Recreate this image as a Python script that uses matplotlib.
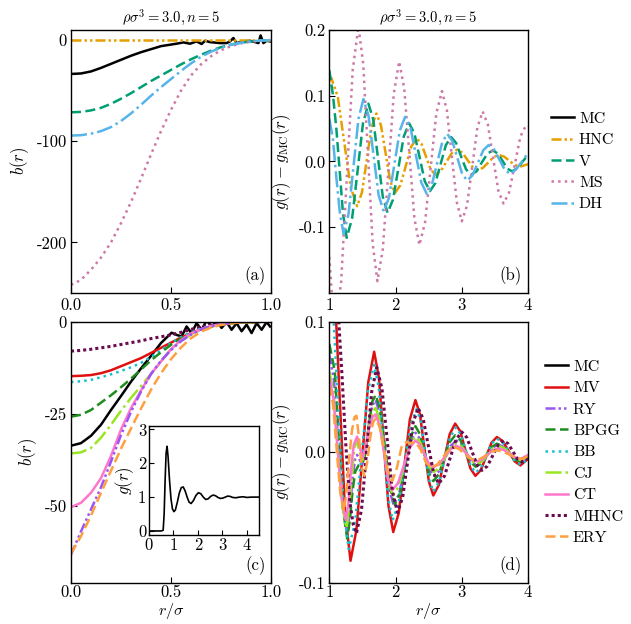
import numpy as np
import matplotlib
matplotlib.use("Agg")
import matplotlib.pyplot as plt

plt.rcParams['font.family'] = 'serif'
plt.rcParams['font.serif'] = ['cmr10']
plt.rcParams['mathtext.fontset'] = 'cm'
plt.rcParams['axes.unicode_minus'] = False
plt.rcParams['font.size'] = 12
plt.rcParams['axes.linewidth'] = 1.0
plt.rcParams['xtick.direction'] = 'in'
plt.rcParams['ytick.direction'] = 'in'

# ---------------- panel (a): bridge function, first set ----------------
r_a = [0.0, 0.05, 0.1, 0.15, 0.2, 0.25, 0.3, 0.35, 0.4, 0.45, 0.5,
       0.55, 0.6, 0.65, 0.7, 0.75, 0.8, 0.85, 0.9, 0.95, 1.0]
b_hnc_a = [0.0] * 21
b_v_a = [-71.4, -71, -69.5, -67, -63, -58, -52.5, -46.5, -40.5, -35, -29.5,
         -24, -19, -14.5, -10.5, -7, -4.5, -2.6, -1.3, -0.5, 0]
b_dh_a = [-94.4, -94, -92.5, -90, -86, -80, -72.5, -64, -55, -46.5, -38.5,
          -30.5, -23, -16.5, -11.5, -7.5, -4.5, -2.6, -1.3, -0.5, 0]
b_ms_a = [-242, -237, -227, -215, -200, -181, -160, -137, -113, -90, -69,
          -50, -35, -24, -16, -10, -6, -3.3, -1.6, -0.6, 0]
r_mc_a = [0.0, 0.05, 0.1, 0.15, 0.2, 0.25, 0.3, 0.35, 0.4, 0.45, 0.495,
          0.53, 0.562, 0.595, 0.628, 0.653, 0.67, 0.695, 0.72, 0.745, 0.778,
          0.795, 0.812, 0.828, 0.862, 0.895, 0.92, 0.937, 0.948, 0.962,
          0.978, 0.995]
b_mc_a = [-33.5, -33, -31, -27.5, -23.5, -19.5, -15.5, -12, -9, -6, -4.6,
          -3.5, -2.3, -3.6, -1.3, -3.9, -0.7, -2, -2.5, -3, -3,
          -1.3, 2, -3, -1.3, -0.7, -2, -3, 4.6, -3, -0.7, -1.3]

# ---------------- panel (b): g(r) - g_MC(r), first set ----------------
r_hnc_b = [1.0, 1.03, 1.128, 1.225, 1.323, 1.42, 1.493, 1.565, 1.638, 1.71,
           1.78, 1.85, 1.92, 1.99, 2.073, 2.155, 2.238, 2.32, 2.39, 2.46,
           2.53, 2.6, 2.683, 2.765, 2.848, 2.93, 3.008, 3.085, 3.163, 3.24,
           3.32, 3.4, 3.48, 3.56, 3.64, 3.72, 3.8, 3.88, 4.0]
g_hnc_b = [0.122, 0.127, 0.0985, 0.0295, -0.0395, -0.068, -0.047, 0.0025,
           0.052, 0.073, 0.055, 0.0125, -0.03, -0.048, -0.036, -0.0065,
           0.023, 0.035, 0.027, 0.0075, -0.012, -0.02, -0.0145, -0.001,
           0.0125, 0.018, 0.0135, 0.0025, -0.0085, -0.013, -0.0096, -0.0015,
           0.0066, 0.01, 0.0074, 0.001, -0.0054, -0.008, -0.004]
r_v_b = [1.0, 1.056, 1.106, 1.157, 1.207, 1.263, 1.345, 1.427, 1.508, 1.59,
         1.663, 1.735, 1.808, 1.88, 1.961, 2.043, 2.124, 2.205, 2.284, 2.363,
         2.441, 2.52, 2.6, 2.68, 2.76, 2.84, 2.915, 2.99, 3.065, 3.14,
         3.223, 3.305, 3.388, 3.47, 3.543, 3.615, 3.688, 3.76, 3.84, 3.92, 4.0]
g_v_b = [0.139, 0.1, 0.05, -0.015, -0.08, -0.116, -0.086, -0.014, 0.058,
         0.088, 0.064, 0.005, -0.054, -0.078, -0.058, -0.01, 0.038, 0.058,
         0.043, 0.0065, -0.03, -0.045, -0.033, -0.004, 0.025, 0.037, 0.028,
         0.0075, -0.012, -0.02, -0.015, -0.001, 0.012, 0.017, 0.012, 0.001,
         -0.011, -0.015, -0.01, 0.0, 0.01]
r_ms_b = [1.0, 1.045, 1.09, 1.178, 1.265, 1.353, 1.44, 1.512, 1.583, 1.655,
          1.726, 1.808, 1.891, 1.973, 2.055, 2.131, 2.208, 2.284, 2.36, 2.445,
          2.53, 2.615, 2.7, 2.775, 2.85, 2.925, 3.0, 3.079, 3.158, 3.236,
          3.315, 3.394, 3.473, 3.551, 3.63, 3.715, 3.8, 3.885, 3.97, 4.0]
g_ms_b = [-0.145, -0.215, -0.25, -0.184, -0.0225, 0.139, 0.205, 0.1485,
          0.0115, -0.1255, -0.182, -0.133, -0.015, 0.103, 0.152, 0.111,
          0.0125, -0.086, -0.127, -0.093, -0.01, 0.073, 0.107, 0.078, 0.008,
          -0.062, -0.091, -0.067, -0.0075, 0.052, 0.076, 0.056, 0.006,
          -0.044, -0.064, -0.047, -0.0045, 0.038, 0.055, 0.054]
r_dh_b = [1.0, 1.054, 1.107, 1.161, 1.215, 1.29, 1.365, 1.44, 1.515, 1.591,
          1.668, 1.744, 1.82, 1.901, 1.983, 2.064, 2.145, 2.226, 2.308, 2.389,
          2.47, 2.548, 2.625, 2.703, 2.78, 2.855, 2.93, 3.005, 3.08, 3.161,
          3.243, 3.324, 3.405, 3.486, 3.568, 3.649, 3.73, 3.82, 3.91, 4.0]
g_dh_b = [0.065, 0.035, -0.025, -0.08, -0.11, -0.08, -0.0075, 0.065, 0.095,
          0.07, 0.0095, -0.051, -0.076, -0.055, -0.004, 0.047, 0.068, 0.051,
          0.0095, -0.032, -0.049, -0.0357, -0.0035, 0.0287, 0.042, 0.0316,
          0.0065, -0.0186, -0.029, -0.0211, -0.002, 0.0171, 0.025, 0.0186,
          0.003, -0.0126, -0.019, -0.012, 0.0, 0.013]

# ---------------- panel (c): bridge function, second set ----------------
r_c = r_a
b_mv_c = [-14.8, -14.7, -14.5, -14, -13.2, -12.1, -11, -9.9, -8.5, -7.1,
          -5.7, -4.3, -3.1, -2.1, -1.3, -0.8, -0.4, -0.2, -0.1, 0, 0]
b_ry_c = [-63.3, -57, -51, -45, -38, -30.8, -24.5, -19, -14.2, -10.6, -7.7,
          -5.3, -3.5, -2.1, -1.2, -0.7, -0.3, -0.1, 0, 0, 0]
b_bpgg_c = [-25.8, -25.3, -24, -22, -20, -17.8, -15.5, -13, -10.5, -8.3,
            -6.3, -4.6, -3.2, -2.1, -1.3, -0.8, -0.4, -0.2, -0.1, 0, 0]
b_bb_c = [-16.4, -16.2, -15.8, -15.1, -14.3, -13.4, -12.4, -11.2, -9.6, -7.8,
          -5.8, -4.2, -2.9, -1.9, -1.2, -0.7, -0.4, -0.2, -0.1, 0, 0]
b_cj_c = [-35.8, -35.5, -34.3, -31.5, -28, -24.2, -20.7, -17.5, -14.2,
          -10.8, -7.5, -5.2, -3.5, -2.2, -1.3, -0.8, -0.4, -0.2, -0.1, 0, 0]
b_ct_c = [-50.4, -49.2, -46.5, -42.5, -36.5, -29.3, -23.5, -18.7, -14.2,
          -10.8, -7.5, -5, -3.2, -2, -1.2, -0.7, -0.3, -0.1, 0, 0, 0]
b_mhnc_c = [-8, -7.8, -7.5, -7.1, -6.7, -6.2, -5.7, -5.2, -4.6, -4.1, -3.6,
            -2.9, -2.1, -1.4, -0.9, -0.5, -0.3, -0.2, -0.1, 0, 0]
b_ery_c = [-63, -58.3, -52.7, -46.5, -40.5, -34.5, -29, -23.6, -18.5, -14,
           -10.2, -7, -4.5, -2.7, -1.6, -0.9, -0.4, -0.2, -0.1, 0, 0]
r_mc_c = [0.0, 0.05, 0.1, 0.15, 0.2, 0.25, 0.3, 0.35, 0.4, 0.45, 0.503, 0.528,
          0.553, 0.578, 0.603, 0.628, 0.653, 0.678, 0.703, 0.728, 0.753,
          0.778, 0.803, 0.828, 0.853, 0.878, 0.903, 0.928, 0.953, 0.978, 0.995]
b_mc_c = [-33.7, -33, -31, -28, -24, -20.2, -16.3, -12.7, -9.3, -5.8,
          -3.0, -3.6, -4.0, -1.3, -3.1, -0.4, -2.2, 0.3, -1.3, 0.1, -1.7,
          -0.1, -2.2, -0.4, -2.6, -0.8, -3.1, -0.4, -2.2, -0.1, -1.3]

# inset: MC radial distribution function
r_ins = [0, 0.5, 0.58, 0.62, 0.66, 0.7, 0.74, 0.78, 0.84, 0.9, 0.96, 1.02,
         1.08, 1.16, 1.24, 1.32, 1.4, 1.48, 1.56, 1.64, 1.72, 1.82, 1.92,
         2.02, 2.12, 2.22, 2.32, 2.42, 2.52, 2.62, 2.72, 2.82, 2.92, 3.02,
         3.12, 3.22, 3.32, 3.42, 3.55, 3.7, 3.85, 4.0, 4.2, 4.5]
g_ins = [0, 0, 0.02, 0.5, 1.5, 2.3, 2.5, 2.2, 1.5, 0.95, 0.65, 0.57, 0.62,
         0.85, 1.12, 1.28, 1.3, 1.18, 1.0, 0.85, 0.81, 0.9, 1.05, 1.13, 1.1,
         1.0, 0.93, 0.95, 1.02, 1.06, 1.04, 0.99, 0.96, 0.97, 1.0, 1.03,
         1.02, 0.99, 0.98, 1.0, 1.01, 0.99, 1.0, 1.0]

# ---------------- panel (d): g(r) - g_MC(r), second set ----------------
r_mv_d = [1.0, 1.073, 1.155, 1.238, 1.32, 1.409, 1.499, 1.588, 1.677, 1.749,
          1.821, 1.893, 1.965, 2.049, 2.133, 2.216, 2.3, 2.368, 2.435, 2.503,
          2.57, 2.653, 2.735, 2.818, 2.9, 2.976, 3.053, 3.129, 3.205, 3.286,
          3.368, 3.449, 3.53, 3.619, 3.708, 3.796, 3.885, 4.0]
g_mv_d = [0.169, 0.133, 0.0435, -0.046, -0.083, -0.0596, -0.003, 0.0536,
          0.077, 0.0569, 0.008, -0.0409, -0.061, -0.0463, -0.0105, 0.0252,
          0.04, 0.0293, 0.0035, -0.0223, -0.033, -0.025, -0.0055, 0.014,
          0.022, 0.0162, 0.002, -0.0122, -0.018, -0.0137, -0.0032, 0.0074,
          0.0117, 0.0085, 0.0009, -0.0068, -0.01, -0.005]
r_ry_d = [1.0, 1.068, 1.135, 1.203, 1.27, 1.31, 1.35, 1.39, 1.42, 1.46, 1.5,
          1.55, 1.6, 1.65, 1.7, 1.768, 1.835, 1.903, 1.97, 2.053, 2.135,
          2.218, 2.3, 2.37, 2.44, 2.51, 2.58, 2.665, 2.75, 2.835, 2.92, 2.995,
          3.07, 3.145, 3.22, 3.303, 3.385, 3.468, 3.55, 3.635, 3.72, 3.805,
          3.89, 4.0]
g_ry_d = [0.075, 0.0559, 0.007, -0.0419, -0.062, -0.045, -0.02, -0.005,
          -0.002, -0.006, -0.009, 0.002, 0.022, 0.036, 0.04, 0.0283, 0.0,
          -0.0283, -0.04, -0.032, -0.0125, 0.007, 0.015, 0.0102, -0.0015,
          -0.0132, -0.018, -0.0141, -0.0045, 0.0051, 0.009, 0.0062, -0.0005,
          -0.0072, -0.01, -0.0077, -0.002, 0.0037, 0.006, 0.0041, -0.0005,
          -0.0051, -0.007, -0.003]
r_bpgg_d = [1.0, 1.083, 1.145, 1.208, 1.27, 1.31, 1.35, 1.39, 1.44, 1.5,
            1.55, 1.6, 1.65, 1.7, 1.773, 1.845, 1.918, 1.99, 2.068, 2.145,
            2.223, 2.3, 2.368, 2.435, 2.503, 2.57, 2.653, 2.735, 2.818, 2.9,
            2.978, 3.055, 3.133, 3.21, 3.29, 3.37, 3.45, 3.53, 3.62, 3.71,
            3.8, 3.89, 4.0]
g_bpgg_d = [0.083, 0.0621, 0.009, -0.0441, -0.066, -0.052, -0.03, -0.015,
            -0.01, -0.008, 0.0, 0.022, 0.039, 0.044, 0.0317, 0.002, -0.0277,
            -0.04, -0.0312, -0.01, 0.0112, 0.02, 0.0139, -0.001, -0.0159,
            -0.022, -0.0169, -0.0045, 0.0079, 0.013, 0.0095, 0.001, -0.0075,
            -0.011, -0.0084, -0.0022, 0.004, 0.0066, 0.0046, -0.0004, -0.0054,
            -0.0074, -0.004]
r_bb_d = [1.0, 1.066, 1.142, 1.217, 1.293, 1.389, 1.485, 1.581, 1.677, 1.747,
          1.816, 1.886, 1.955, 2.046, 2.137, 2.227, 2.318, 2.381, 2.444, 2.507,
          2.57, 2.655, 2.74, 2.825, 2.91, 2.985, 3.06, 3.135, 3.21, 3.29, 3.37,
          3.45, 3.53, 3.62, 3.71, 3.8, 3.89, 4.0]
g_bb_d = [0.129, 0.1, 0.028, -0.0442, -0.074, -0.0534, -0.0035, 0.0464,
          0.067, 0.0496, 0.0075, -0.0346, -0.052, -0.0396, -0.0095, 0.0206,
          0.033, 0.0238, 0.0015, -0.0208, -0.03, -0.0228, -0.0055, 0.0118,
          0.019, 0.0139, 0.0017, -0.0105, -0.0156, -0.0118, -0.0026, 0.0067,
          0.0105, 0.0076, 0.0005, -0.0066, -0.0095, -0.005]
r_cj_d = [1.0, 1.065, 1.13, 1.195, 1.26, 1.3, 1.34, 1.38, 1.41, 1.45, 1.5,
          1.55, 1.6, 1.65, 1.7, 1.765, 1.83, 1.895, 1.96, 2.045, 2.13, 2.215,
          2.3, 2.37, 2.44, 2.51, 2.58, 2.665, 2.75, 2.835, 2.92, 2.995, 3.07,
          3.145, 3.22, 3.303, 3.385, 3.468, 3.55, 3.635, 3.72, 3.805, 3.89,
          4.0]
g_cj_d = [0.062, 0.0445, 0.002, -0.0405, -0.058, -0.042, -0.018, 0.004,
          0.009, 0.002, -0.006, 0.004, 0.02, 0.031, 0.034, 0.0242, 0.0005,
          -0.0232, -0.033, -0.0264, -0.0105, 0.0054, 0.012, 0.0081, -0.0015,
          -0.0111, -0.015, -0.0118, -0.004, 0.0038, 0.007, 0.0047, -0.001,
          -0.0067, -0.009, -0.007, -0.002, 0.003, 0.005, 0.0034, -0.0005,
          -0.0044, -0.006, -0.003]
r_ct_d = [1.0, 1.063, 1.125, 1.188, 1.25, 1.29, 1.33, 1.37, 1.42, 1.46, 1.5,
          1.55, 1.6, 1.65, 1.7, 1.763, 1.825, 1.888, 1.95, 2.038, 2.125, 2.213,
          2.3, 2.368, 2.435, 2.503, 2.57, 2.658, 2.745, 2.833, 2.92, 2.995,
          3.07, 3.145, 3.22, 3.303, 3.385, 3.468, 3.55, 3.635, 3.72, 3.805,
          3.89, 4.0]
g_ct_d = [0.057, 0.0411, 0.0025, -0.0361, -0.052, -0.038, -0.012, 0.006,
          0.012, 0.004, -0.004, 0.004, 0.018, 0.027, 0.029, 0.0205, 0.0,
          -0.0205, -0.029, -0.0235, -0.01, 0.0035, 0.009, 0.006, -0.0013,
          -0.0085, -0.0115, -0.0091, -0.0033, 0.0026, 0.005, 0.0032, -0.001,
          -0.0052, -0.007, -0.0055, -0.002, 0.0015, 0.003, 0.0018, -0.001,
          -0.0038, -0.005, -0.002]
r_mhnc_d = [1.0, 1.06, 1.125, 1.19, 1.25, 1.31, 1.36, 1.41, 1.487, 1.564,
            1.64, 1.717, 1.795, 1.874, 1.952, 2.03, 2.108, 2.185, 2.263, 2.34,
            2.418, 2.495, 2.573, 2.65, 2.738, 2.825, 2.913, 3.0, 3.076, 3.153,
            3.229, 3.305, 3.386, 3.468, 3.549, 3.63, 3.7, 3.77, 3.84, 3.91,
            4.0]
g_mhnc_d = [0.17, 0.155, 0.115, 0.06, 0.005, -0.038, -0.055, -0.062,
            -0.0435, 0.0015, 0.0465, 0.065, 0.0488, 0.0095, -0.0298, -0.046,
            -0.0343, -0.006, 0.0223, 0.034, 0.0255, 0.005, -0.0155, -0.024,
            -0.0182, -0.0042, 0.0098, 0.0156, 0.0113, 0.0009, -0.0095, -0.0138,
            -0.0105, -0.0024, 0.0057, 0.009, 0.0066, 0.0008, -0.005, -0.0074,
            -0.004]
r_ery_d = [1.0, 1.055, 1.11, 1.165, 1.22, 1.26, 1.3, 1.34, 1.38, 1.41, 1.45,
           1.49, 1.53, 1.57, 1.62, 1.66, 1.7, 1.763, 1.825, 1.888, 1.95, 2.02,
           2.09, 2.16, 2.23, 2.3, 2.38, 2.46, 2.55, 2.633, 2.715, 2.798, 2.88,
           2.96, 3.04, 3.12, 3.2, 3.283, 3.365, 3.448, 3.53, 3.625, 3.72,
           3.815, 3.91, 4.0]
g_ery_d = [0.051, 0.037, 0.003, -0.031, -0.045, -0.03, -0.005, 0.016, 0.027,
           0.028, 0.01, -0.012, -0.018, -0.008, 0.012, 0.023, 0.026, 0.019,
           0.002, -0.015, -0.022, -0.012, 0.004, 0.008, 0.007, 0.008, 0.002,
           -0.008, -0.0115, -0.0092, -0.0038, 0.0017, 0.004, 0.0025, -0.001,
           -0.0045, -0.006, -0.0049, -0.0023, 0.0004, 0.0015, 0.0005, -0.0018,
           -0.004, -0.005, -0.003]

# colours
c_hnc, c_v, c_ms, c_dh = '#E69F00', '#009E73', '#CC79A7', '#56B4E9'
c_mv, c_ry, c_bpgg, c_bb = '#E01010', '#9955F5', '#1E8C1E', '#17BECF'
c_cj, c_ct, c_mhnc, c_ery = '#99E620', '#FF77CC', '#6B0A4F', '#FFA040'

ls_dd = (0, (4, 1.2, 1, 1.2, 1, 1.2))
ls_dash = (0, (4, 1.8))
lw = 1.8

fig = plt.figure(figsize=(6.31, 6.24), dpi=100)
axA = fig.add_axes([0.1125, 0.5304, 0.317, 0.4216])
axB = fig.add_axes([0.5219, 0.5304, 0.3149, 0.4216])
axC = fig.add_axes([0.1125, 0.0657, 0.317, 0.4188])
axD = fig.add_axes([0.5219, 0.0657, 0.3149, 0.4188])

leg_kw = dict(loc='center left', frameon=False, fontsize=11.5,
              handlelength=1.45, labelspacing=0.45, handletextpad=0.3)

# panel (a)
axA.plot(r_mc_a, b_mc_a, color='k', lw=lw, label='MC')
axA.plot(r_a, b_hnc_a, color=c_hnc, lw=lw, ls=ls_dd, label='HNC')
axA.plot(r_a, b_v_a, color=c_v, lw=lw, ls=ls_dash, label='V')
axA.plot(r_a, b_ms_a, color=c_ms, lw=lw, ls=':', label='MS')
axA.plot(r_a, b_dh_a, color=c_dh, lw=lw, ls='-.', label='DH')
axA.set_xlim(0, 1)
axA.set_ylim(-250, 10)
axA.set_xticks([0, 0.5, 1.0])
axA.set_xticklabels(['0.0', '0.5', '1.0'])
axA.set_yticks([0, -100, -200])
axA.set_ylabel(r'$b(r)$', labelpad=4)
axA.set_title(r'$\rho\sigma^3 = 3.0, n = 5$', fontsize=10.5, pad=5)
axA.text(0.975, 0.03, '(a)', transform=axA.transAxes, ha='right', va='bottom')

# panel (b)
axB.plot([], [], color='k', lw=lw, label='MC')
axB.plot(r_hnc_b, g_hnc_b, color=c_hnc, lw=lw, ls=ls_dd, label='HNC')
axB.plot(r_v_b, g_v_b, color=c_v, lw=lw, ls=ls_dash, label='V')
axB.plot(r_ms_b, g_ms_b, color=c_ms, lw=lw, ls=':', label='MS')
axB.plot(r_dh_b, g_dh_b, color=c_dh, lw=lw, ls='-.', label='DH')
axB.set_xlim(1, 4)
axB.set_ylim(-0.2, 0.2)
axB.set_xticks([1, 2, 3, 4])
axB.set_yticks([-0.1, 0.0, 0.1, 0.2])
axB.set_yticklabels(['-0.1', '0.0', '0.1', '0.2'])
axB.set_ylabel(r'$g(r) - g_{\rm MC}(r)$', labelpad=4)
axB.set_title(r'$\rho\sigma^3 = 3.0, n = 5$', fontsize=10.5, pad=5)
axB.text(0.968, 0.03, '(b)', transform=axB.transAxes, ha='right', va='bottom')
axB.legend(bbox_to_anchor=(1.043, 0.5), **leg_kw)

# panel (c)
axC.plot(r_mc_c, b_mc_c, color='k', lw=lw)
axC.plot(r_c, b_mhnc_c, color=c_mhnc, lw=2.2, ls=(0, (1, 1)))
axC.plot(r_c, b_mv_c, color=c_mv, lw=lw)
axC.plot(r_c, b_bb_c, color=c_bb, lw=lw, ls=':')
axC.plot(r_c, b_bpgg_c, color=c_bpgg, lw=lw, ls=ls_dash)
axC.plot(r_c, b_cj_c, color=c_cj, lw=lw, ls='-.')
axC.plot(r_c, b_ct_c, color=c_ct, lw=lw)
axC.plot(r_c, b_ry_c, color=c_ry, lw=lw, ls=ls_dd)
axC.plot(r_c, b_ery_c, color=c_ery, lw=lw, ls=ls_dash)
axC.set_xlim(0, 1)
axC.set_ylim(-71, 0)
axC.set_xticks([0, 0.5, 1.0])
axC.set_xticklabels(['0.0', '0.5', '1.0'])
axC.set_yticks([0, -25, -50])
axC.set_ylabel(r'$b(r)$', labelpad=4)
axC.set_xlabel(r'$r/\sigma$', fontsize=11.5)
axC.text(0.973, 0.03, '(c)', transform=axC.transAxes, ha='right', va='bottom')

# inset with g(r)
axIn = fig.add_axes([0.2361, 0.1426, 0.1744, 0.1747])
axIn.plot(r_ins, g_ins, color='k', lw=1.2)
axIn.set_xlim(0, 4.5)
axIn.set_ylim(-0.12, 3.1)
axIn.set_xticks([0, 1, 2, 3, 4])
axIn.set_yticks([0, 1, 2, 3])
axIn.set_ylabel(r'$g(r)$', labelpad=1)
axIn.tick_params(labelsize=12, pad=2)

# panel (d)
axD.plot([], [], color='k', lw=lw, label='MC')
axD.plot(r_mv_d, g_mv_d, color=c_mv, lw=lw, label='MV')
axD.plot(r_ry_d, g_ry_d, color=c_ry, lw=lw, ls=ls_dd, label='RY')
axD.plot(r_bpgg_d, g_bpgg_d, color=c_bpgg, lw=lw, ls=ls_dash, label='BPGG')
axD.plot(r_bb_d, g_bb_d, color=c_bb, lw=lw, ls=':', label='BB')
axD.plot(r_cj_d, g_cj_d, color=c_cj, lw=lw, ls='-.', label='CJ')
axD.plot(r_ct_d, g_ct_d, color=c_ct, lw=lw, label='CT')
axD.plot(r_mhnc_d, g_mhnc_d, color=c_mhnc, lw=2.2, ls=(0, (1, 1)), label='MHNC')
axD.plot(r_ery_d, g_ery_d, color=c_ery, lw=lw, ls=ls_dash, label='ERY')
axD.set_xlim(1, 4)
axD.set_ylim(-0.1, 0.1)
axD.set_xticks([1, 2, 3, 4])
axD.set_yticks([-0.1, 0.0, 0.1])
axD.set_yticklabels(['-0.1', '0.0', '0.1'])
axD.set_ylabel(r'$g(r) - g_{\rm MC}(r)$', labelpad=4)
axD.set_xlabel(r'$r/\sigma$', fontsize=11.5)
axD.text(0.968, 0.03, '(d)', transform=axD.transAxes, ha='right', va='bottom')
axD.legend(bbox_to_anchor=(1.013, 0.5), **leg_kw)

for ax in [axA, axB, axC, axD]:
    ax.tick_params(length=4, width=0.8, pad=3, labelsize=12)
for ax in [axC, axD]:
    ax.tick_params(axis='x', pad=1.5)
    ax.xaxis.set_label_coords(0.5, -0.07)

fig.savefig('out.png', dpi=100)
